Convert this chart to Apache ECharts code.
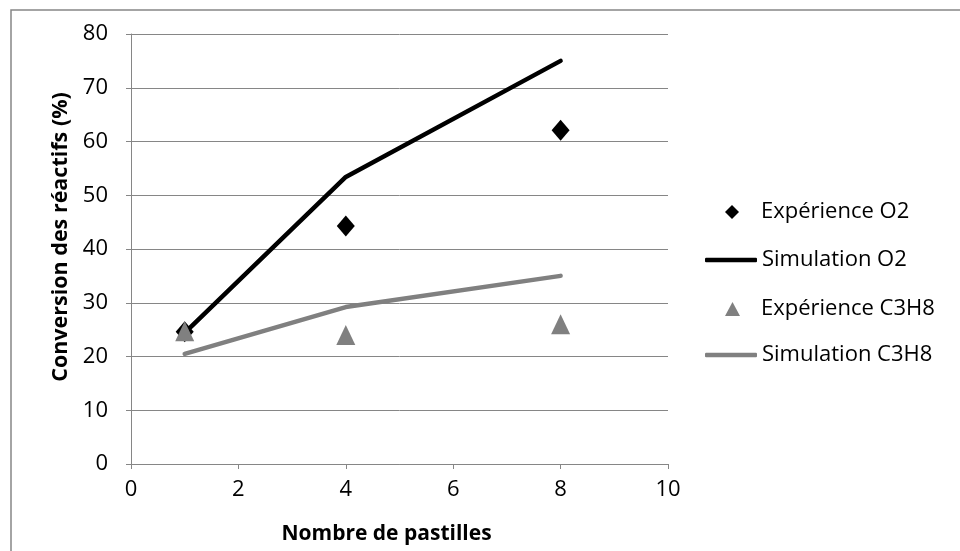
<!DOCTYPE html>
<html>
<head>
<meta charset="utf-8">
<script src="https://cdn.jsdelivr.net/npm/echarts@6/dist/echarts.min.js"></script>
<style>html,body{margin:0;padding:0;background:#fff}#c{width:960px;height:551px}</style>
</head>
<body>
<div id="c"></div>
<script>
const pastilles = [1, 4, 8];
const expO2 = [24.6, 44.3, 62.1];
const simO2 = [24.4, 53.4, 75.0];
const expC3H8 = [24.7, 24.0, 26.0];
const simC3H8 = [20.5, 29.2, 35.0];
const seriesNames = ['Expérience O2', 'Simulation O2', 'Expérience C3H8', 'Simulation C3H8'];
const xTitle = 'Nombre de pastilles';
const yTitle = 'Conversion des réactifs (%)';

const pairs = (xs, ys) => xs.map((x, i) => [x, ys[i]]);
const FONT = 'Open Sans';
const gray = '#868686';
const FS = 22;

const chart = echarts.init(document.getElementById('c'), null, {renderer: 'canvas'});
const legendText = {fontFamily: FONT, fontSize: FS, color: '#000'};
chart.setOption({
  animation: false,
  backgroundColor: '#fff',
  graphic: [{
    type: 'rect', left: 8.5, top: 7.5, shape: {width: 1000, height: 1000},
    style: {fill: 'none', stroke: gray, lineWidth: 1.5}, silent: true, z: -1
  }],
  grid: {left: 131, right: 292, top: 34, bottom: 87},
  xAxis: {
    type: 'value', min: 0, max: 10, interval: 2,
    name: xTitle, nameLocation: 'middle', nameGap: 60,
    nameTextStyle: {fontFamily: FONT, fontSize: 21, fontWeight: 'bold', color: '#000', padding: [0, 26, 0, 0]},
    axisLine: {show: true, onZero: false, lineStyle: {color: gray, width: 1}},
    axisTick: {show: true, inside: false, length: 5, lineStyle: {color: gray}},
    axisLabel: {fontFamily: FONT, fontSize: FS, color: '#000', margin: 15},
    splitLine: {show: false}
  },
  yAxis: {
    type: 'value', min: 0, max: 80, interval: 10,
    name: yTitle, nameLocation: 'middle', nameGap: 58, nameRotate: 90,
    nameTextStyle: {fontFamily: FONT, fontSize: 21.5, fontWeight: 'bold', color: '#000', padding: [0, 0, 0, 24]},
    axisLine: {show: true, onZero: false, lineStyle: {color: gray, width: 1}},
    axisTick: {show: true, inside: false, length: 5, lineStyle: {color: gray}},
    axisLabel: {fontFamily: FONT, fontSize: FS, color: '#000', margin: 23},
    splitLine: {show: true, lineStyle: {color: gray, width: 1}}
  },
  legend: [
    {data: [{name: seriesNames[0], icon: 'diamond'}], left: 720, top: 196, itemWidth: 14, itemHeight: 14,
     itemStyle: {opacity: 1},
     textStyle: Object.assign({padding: [0, 0, 0, 17]}, legendText), selectedMode: false},
    {data: [{name: seriesNames[1], icon: 'roundRect'}], left: 700, top: 244, itemWidth: 52, itemHeight: 4.5,
     textStyle: Object.assign({padding: [0, 0, 0, 0]}, legendText), selectedMode: false},
    {data: [{name: seriesNames[2], icon: 'triangle'}], left: 720, top: 293, itemWidth: 15, itemHeight: 14,
     itemStyle: {opacity: 1},
     textStyle: Object.assign({padding: [0, 0, 0, 16]}, legendText), selectedMode: false},
    {data: [{name: seriesNames[3], icon: 'roundRect'}], left: 700, top: 339, itemWidth: 52, itemHeight: 4.5,
     textStyle: Object.assign({padding: [0, 0, 0, 0]}, legendText), selectedMode: false}
  ],
  series: [
    {name: seriesNames[1], type: 'line', data: pairs(pastilles, simO2), symbol: 'none', showSymbol: false,
     lineStyle: {color: '#000', width: 4.5, cap: 'round', join: 'round'}, itemStyle: {color: '#000'}, z: 2},
    {name: seriesNames[3], type: 'line', data: pairs(pastilles, simC3H8), symbol: 'none', showSymbol: false,
     lineStyle: {color: '#808080', width: 4.5, cap: 'round', join: 'round'}, itemStyle: {color: '#808080'}, z: 2},
    {name: seriesNames[0], type: 'scatter', data: pairs(pastilles, expO2), symbol: 'diamond', symbolSize: [18, 21],
     itemStyle: {color: '#000', opacity: 1}, z: 3},
    {name: seriesNames[2], type: 'scatter', data: pairs(pastilles, expC3H8), symbol: 'triangle', symbolSize: [19, 20],
     itemStyle: {color: '#808080', opacity: 1}, z: 4}
  ]
});
</script>
</body>
</html>
